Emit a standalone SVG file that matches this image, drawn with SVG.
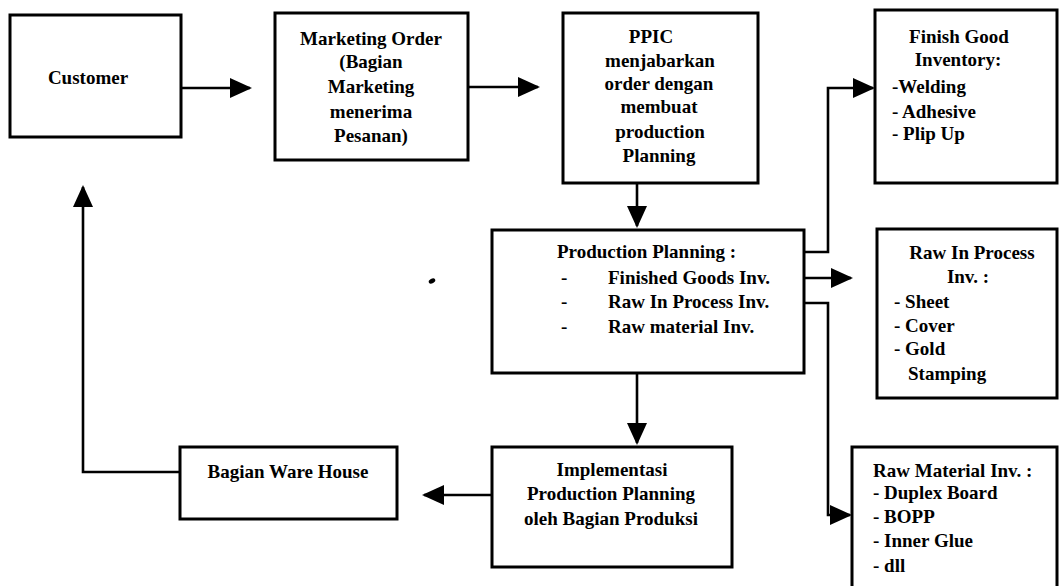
<svg xmlns="http://www.w3.org/2000/svg" width="1059" height="586" viewBox="0 0 1059 586">
<style>
  .box{fill:#fff;stroke:#000;stroke-width:3}
  .t{font-family:"Liberation Serif","Times New Roman",serif;font-size:19px;font-weight:bold;fill:#000}
  .c{text-anchor:middle}
  .ln{fill:none;stroke:#000;stroke-width:2.6;marker-end:url(#ah)}
</style>
<defs>
  <marker id="ah" markerUnits="userSpaceOnUse" markerWidth="24" markerHeight="22" refX="20" refY="10" orient="auto">
    <path d="M0,0 L22,10 L0,20 Z" fill="#000"/>
  </marker>
</defs>
<rect width="1059" height="586" fill="#fff"/>
<g id="connectors">
  <path class="ln" d="M181,88 H250"/>
  <path class="ln" d="M468,87 H538"/>
  <path class="ln" d="M637,183 V226"/>
  <path class="ln" d="M804,252 H828 V88 H873"/>
  <path class="ln" d="M804,278 H851"/>
  <path class="ln" d="M804,303 H828 V515 H850"/>
  <path class="ln" d="M637,373 V443"/>
  <path class="ln" d="M492,495 H424"/>
  <path class="ln" d="M180,472 H83 V187"/>
</g>
<g id="customer">
  <rect class="box" x="10" y="15" width="171" height="122"/>
  <text class="t c" x="88" y="84">Customer</text>
</g>
<g id="marketing">
  <rect class="box" x="275" y="13" width="193" height="147"/>
  <text class="t c" x="371" y="45">Marketing Order</text>
  <text class="t c" x="371" y="68">(Bagian</text>
  <text class="t c" x="371" y="93">Marketing</text>
  <text class="t c" x="371" y="118">menerima</text>
  <text class="t c" x="371" y="142">Pesanan)</text>
</g>
<g id="ppic">
  <rect class="box" x="563" y="13" width="195" height="170"/>
  <text class="t c" x="651" y="43">PPIC</text>
  <text class="t c" x="660" y="67">menjabarkan</text>
  <text class="t c" x="659" y="90">order dengan</text>
  <text class="t c" x="659" y="113">membuat</text>
  <text class="t c" x="660" y="138">production</text>
  <text class="t c" x="659" y="162">Planning</text>
</g>
<g id="finish-good">
  <rect class="box" x="875" y="10" width="182" height="173"/>
  <text class="t c" x="959" y="43">Finish Good</text>
  <text class="t c" x="958" y="66">Inventory:</text>
  <text class="t" x="892" y="93">-Welding</text>
  <text class="t" x="892" y="118">- Adhesive</text>
  <text class="t" x="892" y="140">- Plip Up</text>
</g>
<g id="production-planning">
  <rect class="box" x="492" y="230" width="312" height="143"/>
  <text class="t" x="557" y="258">Production Planning :</text>
  <text class="t" x="561" y="284">-</text>
  <text class="t" x="608" y="284">Finished Goods Inv.</text>
  <text class="t" x="561" y="308">-</text>
  <text class="t" x="608" y="308">Raw In Process Inv.</text>
  <text class="t" x="561" y="333">-</text>
  <text class="t" x="608" y="333">Raw material Inv.</text>
</g>
<g id="raw-in-process">
  <rect class="box" x="877" y="229" width="180" height="169"/>
  <text class="t c" x="972" y="259">Raw In Process</text>
  <text class="t c" x="968" y="283">Inv. :</text>
  <text class="t" x="894" y="308">- Sheet</text>
  <text class="t" x="894" y="332">- Cover</text>
  <text class="t" x="894" y="355">- Gold</text>
  <text class="t" x="908" y="380">Stamping</text>
</g>
<g id="raw-material">
  <rect class="box" x="852" y="447" width="205" height="160"/>
  <text class="t" x="873" y="477">Raw Material Inv. :</text>
  <text class="t" x="873" y="499">- Duplex Board</text>
  <text class="t" x="873" y="523">- BOPP</text>
  <text class="t" x="873" y="547">- Inner Glue</text>
  <text class="t" x="873" y="572">- dll</text>
</g>
<g id="implementasi">
  <rect class="box" x="492" y="447" width="240" height="120"/>
  <text class="t c" x="612" y="476">Implementasi</text>
  <text class="t c" x="611" y="500">Production Planning</text>
  <text class="t c" x="611" y="525">oleh Bagian Produksi</text>
</g>
<g id="warehouse">
  <rect class="box" x="180" y="447" width="217" height="72"/>
  <text class="t c" x="288" y="478">Bagian Ware House</text>
</g>
<ellipse cx="432" cy="281" rx="3.5" ry="2.3" transform="rotate(-30 432 281)" fill="#000"/>
</svg>
